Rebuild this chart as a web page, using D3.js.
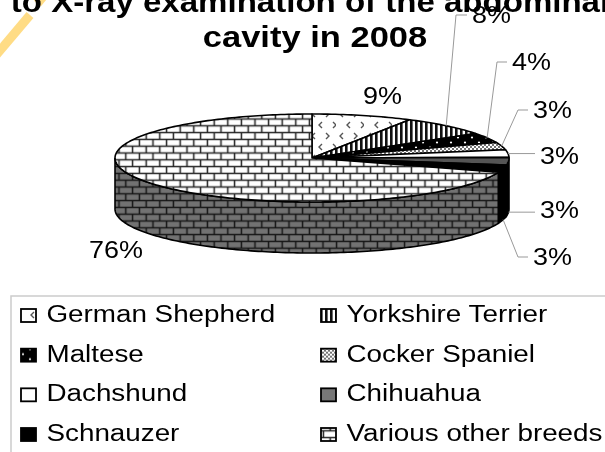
<!DOCTYPE html>
<html>
<head>
<meta charset="utf-8">
<script src="https://cdn.jsdelivr.net/npm/d3@7"></script>
<style>
  html, body { margin: 0; padding: 0; background: #fff; overflow: hidden; }
  svg { filter: blur(0.5px); }
  text { font-family: "Liberation Sans", Arial, sans-serif; fill: #000; }
</style>
</head>
<body>
<div id="chart"></div>
<script>
// Chart data
var breeds = ["German Shepherd", "Yorkshire Terrier", "Maltese", "Cocker Spaniel",
              "Dachshund", "Chihuahua", "Schnauzer", "Various other breeds"];
var shares = [9, 8, 4, 3, 3, 3, 3, 76];
var titleLines = ["to X-ray examination of the abdominal", "cavity in 2008"];

// Layout
var svgWidth = 605, svgHeight = 452;
var cx = 312, cy = 158, rx = 197, ry = 44, depth = 51;
// the source picture is wider than it is tall, so text gets stretched
var titleStretch = [1.12, 1.17];
var labelStretch = 1.1;
var legendStretch = 1.135;
var titleCentres = [310, 315];
var fills = ["url(#german)", "url(#yorkie)", "url(#maltese)", "url(#cocker)",
             "#fff", "#555", "#000", "url(#brick)"];
var wallFills = ["#888", "#888", "#888", "#888", "#bbb", "#000", "#000", "url(#brickDark)"];
var legendFills = ["url(#german)", "url(#yorkie)", "url(#maltese)", "url(#cocker)",
                   "#fff", "#777", "#000", "url(#brick)"];
// left edge and middle of each percent label; leader says if a leader line is drawn
var labelSpots = [[363, 95], [472, 14], [512, 61], [533, 109], [540, 155], [540, 209], [533, 256], [89, 249]];
var leader = [false, true, true, true, true, true, true, false];
var elbow = [0, 16, 15, 15, 0, 0, 15, 0];

var svg = d3.select("#chart").append("svg")
  .attr("width", svgWidth)
  .attr("height", svgHeight)
  .style("display", "block");

var defs = svg.append("defs");

function addPattern(id, w, h, bg) {
  var p = defs.append("pattern")
    .attr("id", id)
    .attr("patternUnits", "userSpaceOnUse")
    .attr("width", w)
    .attr("height", h);
  p.append("rect").attr("width", w).attr("height", h).attr("fill", bg);
  return p;
}

// brick patterns
[["brick", "#fff", "#222"], ["brickDark", "#727272", "#151515"]].forEach(function(b) {
  addPattern(b[0], 13.6, 13.6, b[1]).append("path")
    .attr("d", "M0 3.4H13.6M0 10.2H13.6M3.4 3.4V10.2M10.2 10.2V13.6M10.2 0V3.4")
    .attr("stroke", b[2])
    .attr("stroke-width", 1.5)
    .attr("fill", "none");
});

// little chevrons for the German Shepherd slice
addPattern("german", 28, 22, "#fff").append("path")
  .attr("d", "M7 1L4 4L7 7M18 1L21 4L18 7M14 12L11 15L14 18M25 12L28 15L25 18")
  .attr("stroke", "#555")
  .attr("stroke-width", 1.4)
  .attr("fill", "none");

addPattern("yorkie", 5, 5, "#fff").append("rect")
  .attr("width", 2.6).attr("height", 5).attr("fill", "#111");

var malteseP = addPattern("maltese", 14, 10, "#000");
malteseP.append("circle").attr("cx", 3).attr("cy", 2.5).attr("r", 1.1).attr("fill", "#fff");
malteseP.append("circle").attr("cx", 10).attr("cy", 7.5).attr("r", 1.1).attr("fill", "#fff");

var cockerP = addPattern("cocker", 4, 4, "#fff");
cockerP.append("circle").attr("cx", 1).attr("cy", 1).attr("r", 1).attr("fill", "#444");
cockerP.append("circle").attr("cx", 3).attr("cy", 3).attr("r", 1).attr("fill", "#444");

// yellow streak behind the title, broken where the title band covers it
[[-6, 57.5, 30, 15], [37.5, 3.5, 50, -12]].forEach(function(s) {
  svg.append("line")
    .attr("x1", s[0]).attr("y1", s[1])
    .attr("x2", s[2]).attr("y2", s[3])
    .attr("stroke", "#ffdc85")
    .attr("stroke-width", 9);
});

// Pie slices, angles measured clockwise from the top
var slices = d3.pie().sort(null).value(function(d) { return d; })(shares);

function rimX(a) { return cx + rx * Math.sin(a); }
function rimY(a) { return cy - ry * Math.cos(a); }

var line = d3.line();

function arcAngles(a0, a1) {
  var n = Math.max(2, Math.ceil((a1 - a0) / 0.02));
  return d3.range(n + 1).map(function(i) { return a0 + (a1 - a0) * i / n; });
}

function topPath(d) {
  var pts = arcAngles(d.startAngle, d.endAngle).map(function(a) { return [rimX(a), rimY(a)]; });
  return line([[cx, cy]].concat(pts)) + "Z";
}

function wallPath(d) {
  var a0 = Math.max(d.startAngle, Math.PI / 2);
  var a1 = Math.min(d.endAngle, Math.PI * 1.5);
  var angles = arcAngles(a0, a1);
  var upper = angles.map(function(a) { return [rimX(a), rimY(a)]; });
  var lower = angles.slice().reverse().map(function(a) { return [rimX(a), rimY(a) + depth]; });
  return line(upper.concat(lower)) + "Z";
}

var pieGroup = svg.append("g");

pieGroup.selectAll("path.wall")
  .data(slices.filter(function(d) { return d.endAngle > Math.PI / 2 && d.startAngle < Math.PI * 1.5; }))
  .enter()
  .append("path")
  .attr("class", "wall")
  .attr("d", wallPath)
  .attr("fill", function(d) { return wallFills[d.index]; })
  .attr("stroke", "#000")
  .attr("stroke-width", 1.6);

pieGroup.selectAll("path.top")
  .data(slices)
  .enter()
  .append("path")
  .attr("class", "top")
  .attr("d", topPath)
  .attr("fill", function(d) { return fills[d.index]; })
  .attr("stroke", "#000")
  .attr("stroke-width", 1.6)
  .attr("stroke-linejoin", "round");

// Leader lines start on the rim at the middle of the slice
svg.append("g").selectAll("path")
  .data(slices.filter(function(d) { return leader[d.index]; }))
  .enter()
  .append("path")
  .attr("d", function(d) {
    var mid = (d.startAngle + d.endAngle) / 2;
    var y0 = rimY(mid) + (mid > Math.PI / 2 ? depth : 0);
    var spot = labelSpots[d.index];
    var yEnd = spot[1] + 1;
    var bend = elbow[d.index];
    var pts = [[rimX(mid), y0]];
    if (bend) pts.push([spot[0] - bend, yEnd]);
    else pts.push([spot[0] - 5, y0]);
    pts.push([spot[0] - 5, bend ? yEnd : y0]);
    return line(pts);
  })
  .attr("fill", "none")
  .attr("stroke", "#999")
  .attr("stroke-width", 1);

// Percent labels
svg.append("g").selectAll("text")
  .data(slices)
  .enter()
  .append("text")
  .attr("transform", function(d) {
    var spot = labelSpots[d.index];
    return "translate(" + spot[0] + "," + (spot[1] + 9) + ") scale(" + labelStretch + ",1)";
  })
  .attr("font-size", 24.5)
  .text(function(d) { return d.value + "%"; });

// Title, clipped by the top of the picture
svg.append("g").selectAll("text")
  .data(titleLines)
  .enter()
  .append("text")
  .attr("transform", function(d, i) {
    return "translate(" + titleCentres[i] + "," + (12 + i * 35) + ") scale(" + titleStretch[i] + ",1)";
  })
  .attr("text-anchor", "middle")
  .attr("font-size", 29.5)
  .attr("font-weight", "bold")
  .text(function(d) { return d; });

// Legend box runs off the right and bottom of the picture
svg.append("rect")
  .attr("x", 11).attr("y", 296)
  .attr("width", 620).attr("height", 190)
  .attr("fill", "none")
  .attr("stroke", "#ccc")
  .attr("stroke-width", 1.5);

var legendRow = d3.scalePoint().domain([0, 1, 2, 3]).range([322, 441]);
var legendCol = d3.scalePoint().domain([0, 1]).range([20, 320]);

var legendItems = svg.append("g").selectAll("g")
  .data(breeds)
  .enter()
  .append("g")
  .attr("transform", function(d, i) {
    return "translate(" + legendCol(i % 2) + "," + legendRow(Math.floor(i / 2)) + ")";
  });

legendItems.append("rect")
  .attr("x", 1).attr("y", -13)
  .attr("width", 15).attr("height", 13)
  .attr("fill", function(d, i) { return legendFills[i]; })
  .attr("stroke", "#000")
  .attr("stroke-width", 1.8);

legendItems.append("text")
  .attr("transform", "translate(26.5,0) scale(" + legendStretch + ",1)")
  .attr("font-size", 24.5)
  .text(function(d) { return d; });
</script>
</body>
</html>
